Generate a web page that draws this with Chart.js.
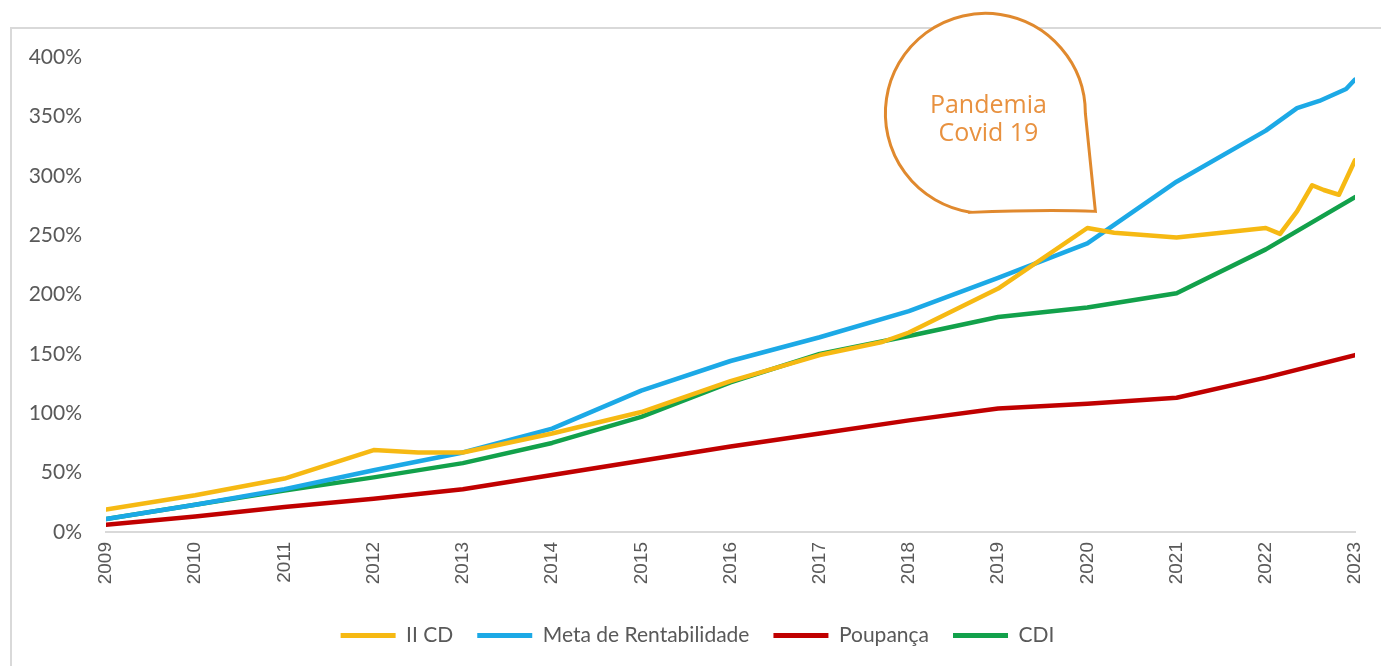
<!DOCTYPE html>
<html>
<head>
<meta charset="utf-8">
<script src="https://cdn.jsdelivr.net/npm/chart.js"></script>
<style>
  html, body { margin: 0; padding: 0; background: #fff; }
  canvas { display: block; }
</style>
</head>
<body>
<canvas id="grafico" width="1381" height="666"></canvas>
<script>
// II CD
const anosIICD = [2009, 2010, 2011, 2012, 2012.5, 2013, 2014, 2015, 2016, 2017, 2017.7, 2018, 2019, 2020, 2020.3, 2021, 2022, 2022.16, 2022.35, 2022.52, 2022.65, 2022.82, 2023];
const valoresIICD = [19, 31, 45, 69, 67, 67, 83, 101, 127, 149, 160, 168, 205, 256, 252, 248, 256, 251, 270, 292, 288, 284, 313];

// Meta de Rentabilidade
const anosMeta = [2009, 2010, 2011, 2012, 2013, 2014, 2015, 2016, 2017, 2018, 2019, 2020, 2021, 2022, 2022.35, 2022.6, 2022.9, 2023];
const valoresMeta = [11, 23, 36, 52, 67, 87, 119, 144, 164, 186, 214, 243, 295, 338, 357, 363, 373, 381];

// Poupança e CDI (anual)
const anos = [2009, 2010, 2011, 2012, 2013, 2014, 2015, 2016, 2017, 2018, 2019, 2020, 2021, 2022, 2023];
const valoresPoupanca = [6, 13, 21, 28, 36, 48, 60, 72, 83, 94, 104, 108, 113, 130, 149];
const valoresCDI = [11, 23, 35, 46, 58, 75, 97, 126, 150, 165, 181, 189, 201, 238, 282];

const ticksY = [0, 50, 100, 150, 200, 250, 300, 350, 400];

// balão da pandemia (ponta em ano / %)
const balaoPonta = [2020.09, 270];
const balaoTexto = ['Pandemia', 'Covid 19'];

function pontos(xs, ys) {
  return xs.map((x, i) => ({ x: x, y: ys[i] }));
}

function serie(label, xs, ys, cor) {
  return {
    label: label,
    data: pontos(xs, ys),
    borderColor: cor,
    backgroundColor: cor,
    borderWidth: 4.5,
    pointRadius: 0,
    tension: 0,
    borderJoinStyle: 'round',
    borderCapStyle: 'round'
  };
}

//Moldura
const moldura = {
  id: 'moldura',
  afterLayout(chart) {
    // legenda um pouco à direita, como no original
    chart.legend.left += 14;
    chart.legend.right += 14;
  },
  beforeDraw(chart) {
    const c = chart.ctx;
    c.save();
    c.strokeStyle = '#d9d9d9';
    c.lineWidth = 2;
    c.beginPath();
    c.moveTo(11, chart.height);
    c.lineTo(11, 28);
    c.lineTo(chart.width, 28);
    c.stroke();
    c.restore();
  }
};

//Balão
const balao = {
  id: 'balao',
  afterDraw(chart) {
    const c = chart.ctx;
    const tx = chart.scales.x.getPixelForValue(balaoPonta[0]);
    const ty = chart.scales.y.getPixelForValue(balaoPonta[1]);
    const r = 100;
    const cx = tx - 110;
    const cy = ty - 100;
    c.save();
    c.beginPath();
    c.arc(cx, cy + 2, r, Math.PI / 2 + 0.15, 2 * Math.PI);
    c.quadraticCurveTo(cx + r + 6, cy + 60, tx, ty);
    c.quadraticCurveTo(cx + 60, cy + r - 2, cx - 15, cy + r + 1);
    c.closePath();
    c.fillStyle = '#ffffff';
    c.fill();
    c.strokeStyle = '#E0892E';
    c.lineWidth = 3;
    c.stroke();
    c.fillStyle = '#E8913F';
    c.font = '25px "Open Sans"';
    c.textAlign = 'center';
    c.textBaseline = 'middle';
    c.fillText(balaoTexto[0], cx + 3, cy - 6);
    c.fillText(balaoTexto[1], cx + 3, cy + 22);
    c.restore();
  }
};

const ctx = document.getElementById('grafico');
new Chart(ctx, {
  type: 'line',
  data: {
    datasets: [
      serie('II CD', anosIICD, valoresIICD, '#F6B913'),
      serie('Meta de Rentabilidade', anosMeta, valoresMeta, '#1CA9E6'),
      serie('Poupança', anos, valoresPoupanca, '#C00000'),
      serie('CDI', anos, valoresCDI, '#12A14B')
    ]
  },
  options: {
    responsive: false,
    animation: false,
    layout: { padding: { left: 12, right: 26, top: 57, bottom: 10 } },
    plugins: {
      tooltip: { enabled: false },
      legend: {
        position: 'bottom',
        labels: {
          boxWidth: 55,
          boxHeight: 5,
          padding: 24,
          color: '#595959',
          font: { family: 'Lato', size: 21 },
          generateLabels(chart) {
            const itens = Chart.defaults.plugins.legend.labels.generateLabels(chart);
            itens.forEach(it => { it.lineWidth = 0; });
            return itens;
          }
        }
      }
    },
    scales: {
      x: {
        type: 'linear',
        min: 2009,
        max: 2023,
        grid: { display: false, drawTicks: false },
        border: { display: true, color: '#d9d9d9', width: 2 },
        ticks: {
          stepSize: 1,
          autoSkip: false,
          maxRotation: 90,
          minRotation: 90,
          padding: 10,
          color: '#595959',
          font: { family: 'Liberation Sans', size: 19 },
          callback: v => String(v)
        },
        afterFit(scale) {
          scale.height = 69;
          scale.paddingLeft = 0;
          scale.paddingRight = 0;
        }
      },
      y: {
        min: 0,
        max: 400,
        afterBuildTicks(scale) { scale.ticks = ticksY.map(v => ({ value: v })); },
        grid: { display: false, drawTicks: false },
        border: { display: false },
        ticks: {
          padding: 24,
          color: '#595959',
          font: { family: 'Lato', size: 21 },
          callback: v => v + '%'
        },
        afterFit(scale) { scale.width = 94; }
      }
    }
  },
  plugins: [moldura, balao]
});
</script>
</body>
</html>
